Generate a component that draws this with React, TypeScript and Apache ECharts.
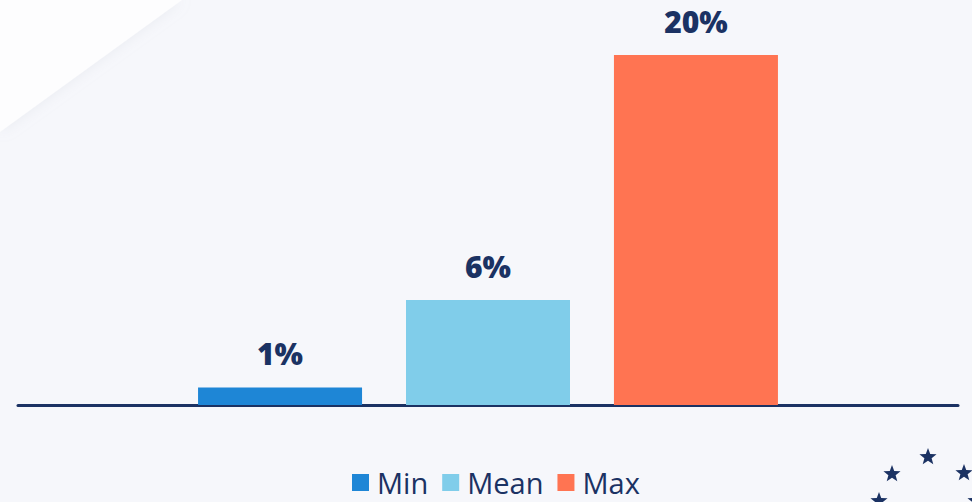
import React, { useEffect, useRef } from "react";
import * as echarts from "echarts";

const categories = [""];
const seriesNames = ["Min", "Mean", "Max"];
const minValues = [1];
const meanValues = [6];
const maxValues = [20];
const seriesColors = ["#1e86d6", "#80cdea", "#ff7452"];
const NAVY = "#1b3263";

function starPoints(cx: number, cy: number, R: number, r: number): number[][] {
  const pts: number[][] = [];
  for (let i = 0; i < 10; i++) {
    const ang = -Math.PI / 2 + (i * Math.PI) / 5;
    const rad = i % 2 === 0 ? R : r;
    pts.push([cx + rad * Math.cos(ang), cy + rad * Math.sin(ang)]);
  }
  return pts;
}

const starCenters = [
  [928, 457],
  [892, 474],
  [964, 473],
  [879, 501],
  [976, 501],
];

export default function App() {
  const ref = useRef<HTMLDivElement>(null);
  useEffect(() => {
    if (!ref.current) return;
    const chart = echarts.init(ref.current, null, { renderer: "svg" });
    const values = [minValues, meanValues, maxValues];
    const series = seriesNames.map((name, i) => ({
      name,
      type: "bar",
      data: values[i],
      barWidth: 164,
      barGap: "26.8%",
      itemStyle: { color: seriesColors[i] },
      label: {
        show: true,
        position: "top",
        distance: 19,
        formatter: "{c}%",
        color: NAVY,
        fontSize: 30,
        fontWeight: 800,
        fontFamily: "'Open Sans', sans-serif",
      },
    }));
    chart.setOption({
      animation: false,
      backgroundColor: "transparent",
      grid: { left: 18, right: 14, top: 55, bottom: 97 },
      xAxis: {
        type: "category",
        data: categories,
        axisLine: { show: true, lineStyle: { color: NAVY, width: 3 } },
        axisTick: { show: false },
        axisLabel: { show: false },
      },
      yAxis: {
        type: "value",
        min: 0,
        max: 20,
        show: false,
        splitLine: { show: false },
      },
      legend: {
        data: seriesNames,
        left: 352,
        top: 468,
        padding: 0,
        icon: "rect",
        itemWidth: 17,
        itemHeight: 17,
        itemGap: 14,
        textStyle: {
          color: NAVY,
          fontSize: 29,
          lineHeight: 29,
          padding: [0, 0, 0, 3],
          fontFamily: "'Open Sans', sans-serif",
        },
      },
      graphic: [
        {
          type: "polygon",
          z: -10,
          silent: true,
          shape: { points: [[0, 0], [182, 0], [0, 132]] },
          style: {
            fill: "#fdfdfe",
            shadowBlur: 14,
            shadowColor: "rgba(180,185,200,0.2)",
          },
        },
        ...starCenters.map((c) => ({
          type: "polygon",
          silent: true,
          shape: { points: starPoints(c[0], c[1], 9, 3.8) },
          style: { fill: NAVY },
        })),
      ],
      series,
    });
    return () => chart.dispose();
  }, []);
  return (
    <div
      style={{
        position: "fixed",
        left: 0,
        top: 0,
        width: 972,
        height: 502,
        background: "#f6f7fb",
      }}
    >
      <div ref={ref} style={{ width: 972, height: 502 }} />
    </div>
  );
}
